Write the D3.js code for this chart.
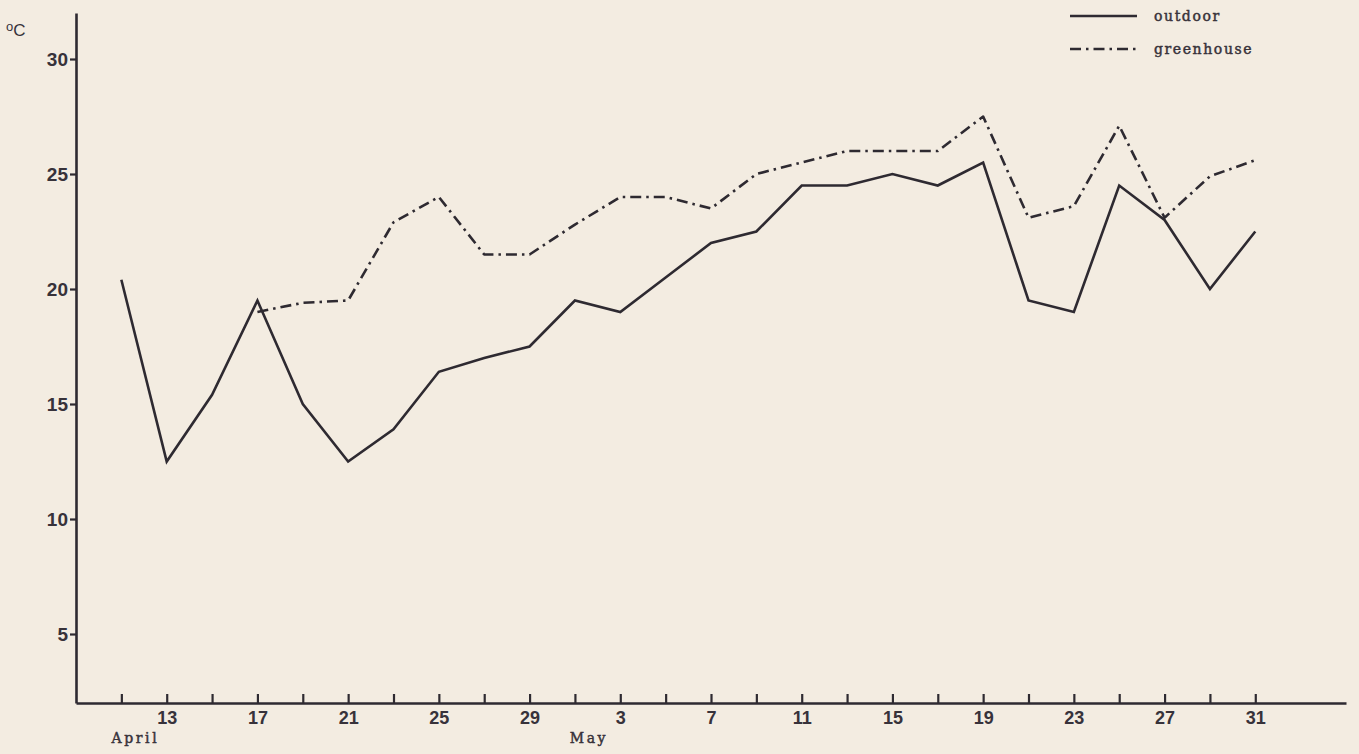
<!DOCTYPE html>
<html>
<head>
<meta charset="utf-8">
<script src="https://cdn.jsdelivr.net/npm/d3@7/dist/d3.min.js"></script>
<style>
  html, body { margin: 0; padding: 0; background: #f3ece1; }
  svg { display: block; }
</style>
</head>
<body>
<svg id="chart" width="1359" height="754"></svg>
<script>
// Observation dates (every second day, 11 April – 31 May)
const dates = [
  "04-11","04-13","04-15","04-17","04-19","04-21","04-23","04-25","04-27","04-29",
  "05-01","05-03","05-05","05-07","05-09","05-11","05-13","05-15","05-17","05-19",
  "05-21","05-23","05-25","05-27","05-29","05-31"
];

// Mean temperature, °C
const outdoor = [
  20.4, 12.5, 15.4, 19.5, 15.0, 12.5, 13.9, 16.4, 17.0, 17.5,
  19.5, 19.0, 20.5, 22.0, 22.5, 24.5, 24.5, 25.0, 24.5, 25.5,
  19.5, 19.0, 24.5, 23.0, 20.0, 22.5
];
const greenhouse = [
  null, null, null, 19.0, 19.4, 19.5, 22.9, 24.0, 21.5, 21.5,
  22.8, 24.0, 24.0, 23.5, 25.0, 25.5, 26.0, 26.0, 26.0, 27.5,
  23.1, 23.6, 27.1, 23.1, 24.9, 25.6
];

// Axis labels
const xTickLabels = ["13","17","21","25","29","3","7","11","15","19","23","27","31"];
const monthLabels = [["04-11", "April"], ["05-01", "May"]];
const yTicks = [5, 10, 15, 20, 25, 30];
const seriesNames = ["outdoor", "greenhouse"];

const parse = d3.timeParse("%m-%d");
const ink = "#2e2a31";
const textInk = "#37323a";
const numFont = "'Liberation Sans', Arial, sans-serif";
const typeFont = "'DejaVu Serif', serif";

const svg = d3.select("#chart");

const x = d3.scaleTime()
  .domain([parse("04-09"), parse("06-04")])
  .range([76, 1346]);
const y = d3.scaleLinear().domain([2, 32]).range([703, 13]);

// y axis
const yAxis = d3.axisLeft(y).tickValues(yTicks)
  .tickSize(6).tickSizeOuter(0).tickPadding(2)
  .tickFormat(d3.format("d"));
const gy = svg.append("g").attr("transform", `translate(${x.range()[0]},0)`).call(yAxis);
gy.select(".domain").attr("stroke", ink).attr("stroke-width", 2.6);
gy.selectAll(".tick line").attr("stroke", ink).attr("stroke-width", 2.2);
gy.selectAll(".tick text")
  .attr("fill", textInk)
  .style("font-family", numFont)
  .style("font-weight", "bold")
  .style("font-size", "19px");

// x axis: tick every second day, number every fourth day
const tickDates = dates.map(parse);
const labelled = new Set(xTickLabels);
const xAxis = d3.axisBottom(x)
  .tickValues(tickDates)
  .tickSize(0).tickSizeOuter(0)
  .tickPadding(8)
  .tickFormat((d, i) => (i % 2 === 1 && labelled.has(String(d.getDate()))) ? String(d.getDate()) : "");
const gx = svg.append("g").attr("transform", `translate(0,${y.range()[0]})`).call(xAxis);
gx.select(".domain").attr("stroke", ink).attr("stroke-width", 2.6);
gx.selectAll(".tick").append("line")
  .attr("y1", 0).attr("y2", -9)
  .attr("stroke", ink).attr("stroke-width", 2.2);
gx.selectAll(".tick text")
  .attr("fill", textInk)
  .style("font-family", numFont)
  .style("font-weight", "bold")
  .style("font-size", "18px");

// month names under the date numbers
svg.append("g").selectAll("text")
  .data(monthLabels)
  .join("text")
  .attr("x", d => x(parse(d[0])) + 14)
  .attr("y", 743)
  .attr("text-anchor", "middle")
  .attr("fill", textInk)
  .attr("stroke", textInk)
  .attr("stroke-width", 0.45)
  .style("font-family", typeFont)
  .style("font-size", "14px")
  .style("letter-spacing", "2.6px")
  .text(d => d[1]);

// unit label
const unit = svg.append("text")
  .attr("x", 6).attr("y", 36)
  .attr("fill", textInk)
  .style("font-family", numFont)
  .style("font-size", "17px");
unit.append("tspan").attr("font-size", "13px").attr("dy", -5).text("o");
unit.append("tspan").attr("dy", 5).text("C");

// series lines
const line = d3.line()
  .defined(d => d.v != null)
  .x(d => x(d.t))
  .y(d => y(d.v));

const outdoorPts = dates.map((d, i) => ({ t: parse(d), v: outdoor[i] }));
const greenPts = dates.map((d, i) => ({ t: parse(d), v: greenhouse[i] }));

const dashDot = "11,5,2.5,5";

svg.append("path")
  .datum(greenPts)
  .attr("d", line)
  .attr("fill", "none")
  .attr("stroke", ink)
  .attr("stroke-width", 2.6)
  .attr("stroke-dasharray", dashDot)
  .attr("stroke-linejoin", "round");

svg.append("path")
  .datum(outdoorPts)
  .attr("d", line)
  .attr("fill", "none")
  .attr("stroke", ink)
  .attr("stroke-width", 2.6)
  .attr("stroke-linejoin", "miter");

// legend
const legend = svg.append("g").attr("transform", "translate(1070,0)");
const legendRows = [
  { name: seriesNames[0], dash: null, y: 16 },
  { name: seriesNames[1], dash: dashDot, y: 49 }
];
legendRows.forEach(r => {
  legend.append("line")
    .attr("x1", 0).attr("x2", 67)
    .attr("y1", r.y).attr("y2", r.y)
    .attr("stroke", ink)
    .attr("stroke-width", 2.4)
    .attr("stroke-dasharray", r.dash);
  legend.append("text")
    .attr("x", 84).attr("y", r.y + 5)
    .attr("fill", textInk)
    .attr("stroke", textInk)
    .attr("stroke-width", 0.45)
    .style("font-family", typeFont)
    .style("font-size", "14px")
    .style("letter-spacing", "1.6px")
    .text(r.name);
});
</script>
</body>
</html>
